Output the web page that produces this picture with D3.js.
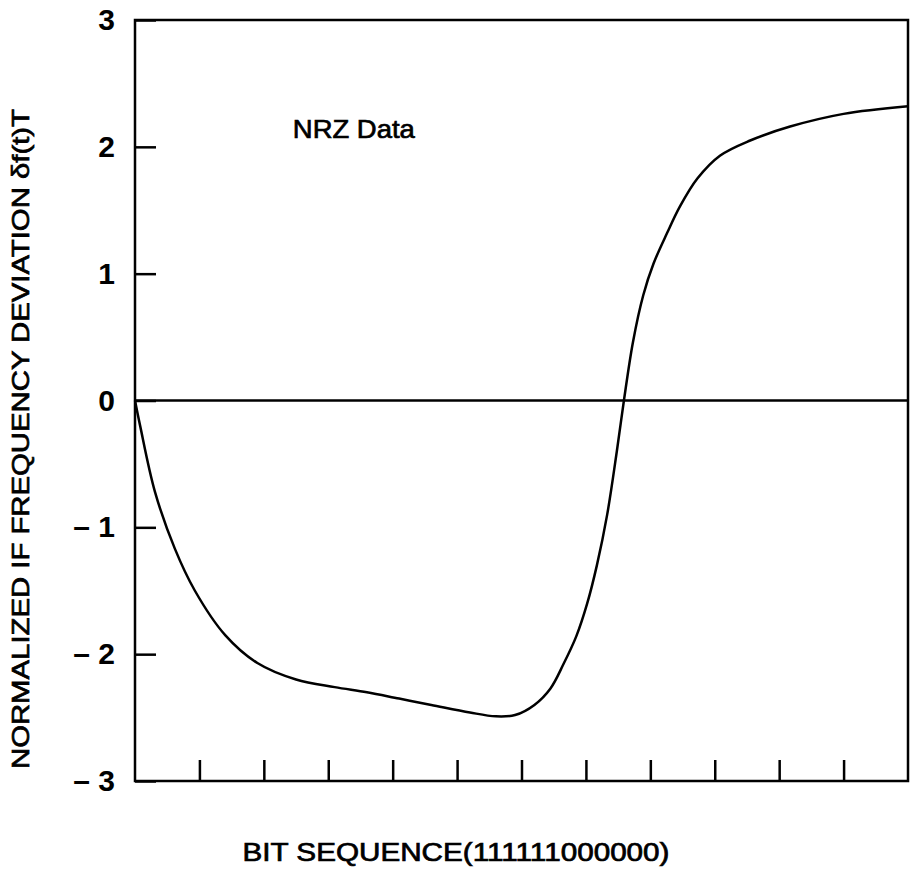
<!DOCTYPE html>
<html>
<head>
<meta charset="utf-8">
<script src="https://cdn.jsdelivr.net/npm/d3@7"></script>
<style>
  body { margin: 0; background: #fff; }
  text { font-family: "Liberation Sans", Arial, sans-serif; fill: #000; }
</style>
</head>
<body>
<svg id="chart" width="910" height="888"></svg>
<script>
//////////////////// DATA ////////////////////
// bit position along the sequence (0..12)
const bitPos = [0, 0.08, 0.31, 0.62, 0.93, 1.4, 1.9, 2.5, 3.1, 3.6, 4.1, 4.6, 5.2, 5.6, 5.9, 6.2,
    6.45, 6.65, 6.85, 7.02, 7.17, 7.33, 7.48, 7.59, 7.73, 7.89, 8.05, 8.26, 8.46, 8.73, 9.08,
    9.55, 10.17, 11.0, 12.0];
// normalized IF frequency deviation
const devValues = [0, -0.2, -0.72, -1.17, -1.5, -1.85, -2.07, -2.2, -2.26, -2.3, -2.35, -2.4, -2.46, -2.49, -2.48, -2.4,
    -2.27, -2.08, -1.86, -1.6, -1.3, -0.9, -0.4, 0, 0.46, 0.83, 1.08, 1.32, 1.53, 1.75, 1.93,
    2.05, 2.16, 2.26, 2.32];
const yTicks = [3, 2, 1, 0, -1, -2, -3];
const xTicks = [1, 2, 3, 4, 5, 6, 7, 8, 9, 10, 11];

//////////////////// SIZES ////////////////////
const svg = d3.select("#chart");
const margin = { left: 135, right: 2, top: 20, bottom: 107 };
const width = 910 - margin.left - margin.right;
const height = 888 - margin.top - margin.bottom;

const g = svg.append("g")
    .attr("transform", `translate(${margin.left}, ${margin.top})`);

//////////////////// SCALES ////////////////////
const scaleX = d3.scaleLinear().domain([0, 12]).range([0, width]);
const scaleY = d3.scaleLinear().domain([-3, 3]).range([height, 0]);

//////////////////// AXES ////////////////////
// left axis: inward ticks, labels outside
const yAxis = d3.axisLeft(scaleY)
    .tickValues(yTicks)
    .tickSize(-21)
    .tickFormat(d => d < 0 ? "\u2013 " + Math.abs(d) : d);
const yAxisGroup = g.append("g").call(yAxis);
yAxisGroup.select(".domain").remove();
yAxisGroup.selectAll("line").attr("stroke", "#000").attr("stroke-width", 2.5);
yAxisGroup.selectAll("text")
    .attr("x", -20)
    .attr("font-size", 30)
    .attr("font-weight", "bold")
    .attr("font-family", "Liberation Sans, Arial, sans-serif");

// bottom axis: inward ticks only
const xAxis = d3.axisBottom(scaleX)
    .tickValues(xTicks)
    .tickSize(-21)
    .tickFormat("");
const xAxisGroup = g.append("g")
    .attr("transform", `translate(0, ${height})`)
    .call(xAxis);
xAxisGroup.select(".domain").remove();
xAxisGroup.selectAll("line").attr("stroke", "#000").attr("stroke-width", 2.5);

// frame
g.append("rect")
    .attr("x", 0).attr("y", 0)
    .attr("width", width).attr("height", height)
    .attr("fill", "none")
    .attr("stroke", "#000")
    .attr("stroke-width", 2.5);

// zero line
g.append("line")
    .attr("x1", 0).attr("x2", width)
    .attr("y1", scaleY(0)).attr("y2", scaleY(0))
    .attr("stroke", "#000")
    .attr("stroke-width", 2.5);

//////////////////// CURVE ////////////////////
const lineGenerator = d3.line()
    .x(d => scaleX(d[0]))
    .y(d => scaleY(d[1]))
    .curve(d3.curveCatmullRom.alpha(0.5));

g.append("path")
    .attr("d", lineGenerator(bitPos.map((b, i) => [b, devValues[i]])))
    .attr("fill", "none")
    .attr("stroke", "#000")
    .attr("stroke-width", 2.5);

//////////////////// LABELS ////////////////////
g.append("text")
    .attr("x", scaleX(2.45))
    .attr("y", scaleY(2.07))
    .attr("font-size", 26)
    .attr("stroke", "#000")
    .attr("stroke-width", 0.7)
    .attr("textLength", 122)
    .attr("lengthAdjust", "spacingAndGlyphs")
    .text("NRZ  Data");

svg.append("text")
    .attr("transform", "rotate(-90, 29, 439)")
    .attr("x", 29)
    .attr("y", 439)
    .attr("text-anchor", "middle")
    .attr("font-size", 24)
    .attr("stroke", "#000")
    .attr("stroke-width", 0.7)
    .attr("textLength", 660)
    .attr("lengthAdjust", "spacingAndGlyphs")
    .text("NORMALIZED  IF  FREQUENCY  DEVIATION \u03b4f(t)T");

svg.append("text")
    .attr("x", 456)
    .attr("y", 861)
    .attr("text-anchor", "middle")
    .attr("font-size", 25)
    .attr("stroke", "#000")
    .attr("stroke-width", 0.7)
    .attr("textLength", 427)
    .attr("lengthAdjust", "spacingAndGlyphs")
    .text("BIT SEQUENCE(111111000000)");
</script>
</body>
</html>
